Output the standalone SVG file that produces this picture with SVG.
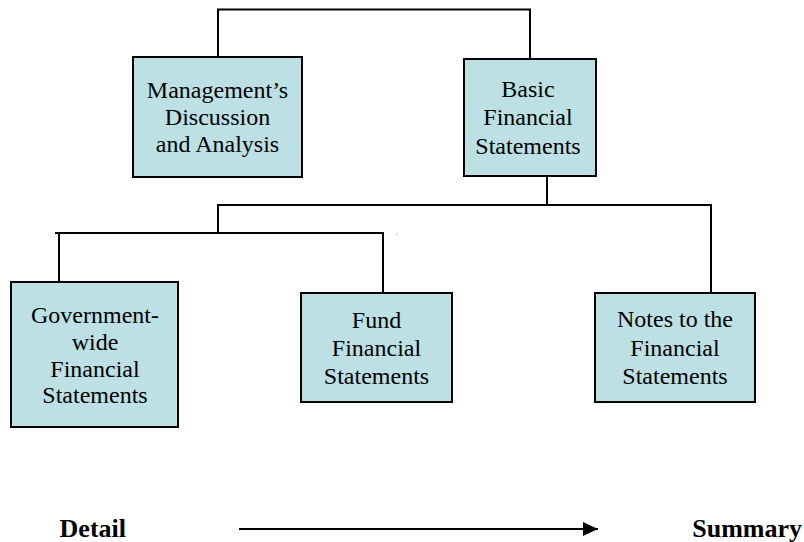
<svg xmlns="http://www.w3.org/2000/svg" width="804" height="542" viewBox="0 0 804 542">
<style>
.box{fill:#bce0e3;stroke:#000;stroke-width:2}
.t{font-size:24px;fill:#000;text-anchor:middle}
.b{font-size:26px;font-weight:bold;fill:#000}
.c{fill:none;stroke:#000;stroke-width:2}
</style>
<defs>
<marker id="ah" markerWidth="15" markerHeight="14" refX="15" refY="7" orient="auto" markerUnits="userSpaceOnUse">
<path d="M0,0 L15,7 L0,14 Z" fill="#000"/>
</marker>
</defs>
<rect width="804" height="542" fill="#fff"/>
<g id="connectors">
<path class="c" d="M218,57 V9.5 H530 V59"/>
<path class="c" d="M547,176 V205"/>
<path class="c" d="M218,233 V205 H711 V293"/>
<path class="c" d="M55,233 H383 V293"/>
<path class="c" d="M59,233 V282"/>
<rect x="396.5" y="233.5" width="1" height="1" fill="#777"/>
<line class="c" x1="239" y1="529" x2="598" y2="529" marker-end="url(#ah)"/>
</g>
<g font-family="Liberation Serif, Times New Roman, DejaVu Serif, serif">
<g id="mda">
<rect class="box" x="133" y="57" width="169" height="120"/>
<text class="t" x="217.5" y="98">Management’s</text>
<text class="t" x="217.5" y="125">Discussion</text>
<text class="t" x="217.5" y="152">and Analysis</text>
</g>
<g id="basic">
<rect class="box" x="464" y="59" width="132" height="117"/>
<text class="t" x="528" y="97">Basic</text>
<text class="t" x="528" y="125">Financial</text>
<text class="t" x="528" y="154">Statements</text>
</g>
<g id="govwide">
<rect class="box" x="11" y="282" width="167" height="145"/>
<text class="t" x="95" y="323">Government-</text>
<text class="t" x="95" y="350">wide</text>
<text class="t" x="95" y="377">Financial</text>
<text class="t" x="95" y="403">Statements</text>
</g>
<g id="fund">
<rect class="box" x="301" y="293" width="151" height="109"/>
<text class="t" x="376.5" y="328">Fund</text>
<text class="t" x="376.5" y="356">Financial</text>
<text class="t" x="376.5" y="384">Statements</text>
</g>
<g id="notes">
<rect class="box" x="595" y="293" width="160" height="109"/>
<text class="t" x="675" y="327">Notes to the</text>
<text class="t" x="675" y="356">Financial</text>
<text class="t" x="675" y="384">Statements</text>
</g>
<g id="scale">
<text class="b" x="126" y="537" text-anchor="end">Detail</text>
<text class="b" x="802" y="537" text-anchor="end">Summary</text>
</g>
</g>
</svg>
